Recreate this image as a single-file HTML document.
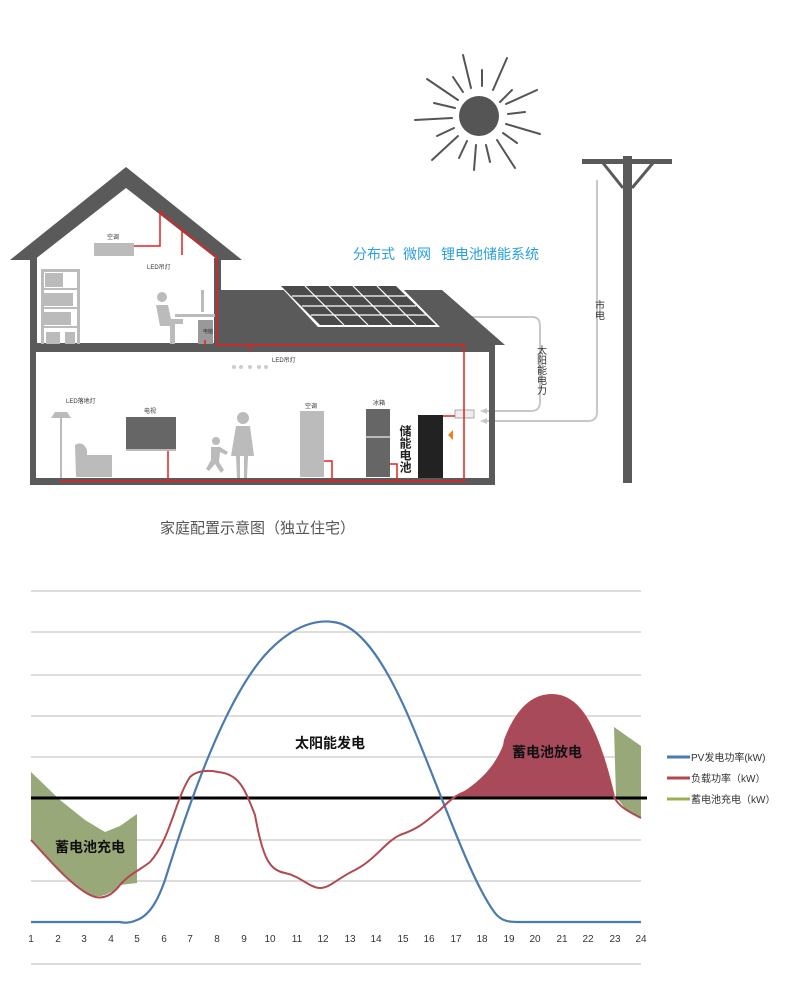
<!DOCTYPE html>
<html><head><meta charset="utf-8"><style>
html,body{margin:0;padding:0;background:#fff;}
svg{display:block;}
text{font-family:"Liberation Sans","Noto Sans CJK SC",sans-serif;}
</style></head><body>
<svg width="800" height="1000" viewBox="0 0 800 1000" xmlns="http://www.w3.org/2000/svg">
<!-- sun -->
<circle cx="479" cy="116" r="20" fill="#555"/>
<g stroke="#555" stroke-width="2" stroke-linecap="round">
<line x1="463" y1="55" x2="471" y2="88"/><line x1="482" y1="70" x2="482" y2="86"/>
<line x1="507" y1="58" x2="493" y2="90"/><line x1="453" y1="77" x2="463" y2="92"/>
<line x1="427" y1="79" x2="458" y2="100"/><line x1="512" y1="90" x2="500" y2="102"/>
<line x1="537" y1="90" x2="506" y2="104"/><line x1="434" y1="103" x2="455" y2="108"/>
<line x1="415" y1="120" x2="452" y2="118"/><line x1="508" y1="114" x2="525" y2="112"/>
<line x1="506" y1="124" x2="540" y2="134"/><line x1="437" y1="136" x2="454" y2="128"/>
<line x1="432" y1="160" x2="458" y2="136"/><line x1="503" y1="133" x2="517" y2="143"/>
<line x1="459" y1="158" x2="467" y2="141"/><line x1="474" y1="170" x2="476" y2="145"/>
<line x1="490" y1="162" x2="486" y2="145"/><line x1="515" y1="168" x2="497" y2="140"/>
</g>
<!-- pole -->
<rect x="623" y="156" width="9" height="327" fill="#5a5a5a"/>
<rect x="582" y="159" width="90" height="5" fill="#5a5a5a"/>
<line x1="603" y1="163" x2="623" y2="188" stroke="#5a5a5a" stroke-width="3"/>
<line x1="653" y1="163" x2="632" y2="188" stroke="#5a5a5a" stroke-width="3"/>
<!-- gray power lines -->
<g fill="none" stroke="#c8c8c8" stroke-width="2">
<path d="M597,180 L597,412 Q597,421 588,421 L484,421"/>
<path d="M449,317 L532,317 Q540,317 540,326 L540,402 Q540,411 531,411 L484,411"/>
</g>
<polygon points="480,411 487,408 487,414" fill="#c8c8c8"/>
<polygon points="480,421 487,418 487,424" fill="#c8c8c8"/>
<text x="598" y="300" font-size="10" fill="#333" writing-mode="tb">市电</text>
<text x="540" y="345" font-size="10" fill="#333" writing-mode="tb">太阳能电力</text>
<g font-size="14" fill="#2a9fe0">
<text x="353" y="259">分布式</text>
<text x="403" y="259">微网</text>
<text x="441" y="259">锂电池储能系统</text>
</g>
<!-- middle roof -->
<polygon points="220,290 442,290 505,345 220,345" fill="#5a5a5a"/>
<polygon points="278,284 398,284 440,327 318,327" fill="#fff"/>
<polygon points="281,286 396,286 436,325 320,325" fill="#4a4a4a"/>
<g stroke="#fff" stroke-width="1.2">
<line x1="292" y1="296" x2="406" y2="296"/><line x1="302" y1="306" x2="416" y2="306"/><line x1="311" y1="315" x2="426" y2="315"/>
<line x1="305" y1="286" x2="344" y2="325"/><line x1="329" y1="286" x2="368" y2="325"/><line x1="353" y1="286" x2="392" y2="325"/><line x1="377" y1="286" x2="416" y2="325"/>
</g>
<!-- upper gable -->
<polygon points="126,167 242,260 218,260 126,188 34,260 10,260" fill="#5a5a5a"/>
<rect x="30" y="258" width="7" height="90" fill="#5a5a5a"/>
<rect x="214" y="258" width="7" height="90" fill="#5a5a5a"/>
<!-- lower house -->
<rect x="30" y="343" width="465" height="9" fill="#5a5a5a"/>
<rect x="30" y="343" width="6" height="142" fill="#5a5a5a"/>
<rect x="489" y="343" width="6" height="142" fill="#5a5a5a"/>
<rect x="30" y="478" width="465" height="7" fill="#5a5a5a"/>
<!-- upper room items -->
<rect x="94" y="243" width="40" height="13" fill="#bbb"/>
<text x="107" y="239" font-size="6" fill="#333">空调</text>
<text x="147" y="269" font-size="6" fill="#333">LED吊灯</text>
<g fill="#bbb"><rect x="41" y="269" width="38" height="3"/><rect x="41" y="269" width="3" height="75"/><rect x="77" y="269" width="3" height="75"/><rect x="41" y="288" width="38" height="2"/><rect x="41" y="307" width="38" height="2"/><rect x="41" y="326" width="38" height="2"/><rect x="45" y="273" width="18" height="14"/><rect x="43" y="293" width="30" height="13"/><rect x="43" y="312" width="28" height="13"/><rect x="46" y="332" width="14" height="12"/><rect x="65" y="332" width="10" height="12"/></g>
<circle cx="162" cy="297" r="5" fill="#bbb"/>
<path d="M156,305 h12 l3,14 h12 v5 h-8 v20 h-5 v-18 h-10 z" fill="#bbb"/>
<rect x="175" y="314" width="40" height="3" fill="#bbb"/>
<rect x="201" y="290" width="3" height="22" fill="#bbb"/>
<rect x="198" y="320" width="15" height="24" fill="#999"/>
<text x="203" y="333" font-size="5" fill="#333">电脑</text>
<!-- lower room items -->
<text x="272" y="362" font-size="6" fill="#333">LED吊灯</text>
<g fill="#ccc"><circle cx="234" cy="367" r="2"/><circle cx="241" cy="367" r="2"/><circle cx="250" cy="367" r="2"/><circle cx="259" cy="367" r="2"/><circle cx="266" cy="367" r="2"/></g>
<text x="66" y="403" font-size="6" fill="#333">LED落地灯</text>
<polygon points="55,412 67,412 71,418 51,418" fill="#bbb"/>
<rect x="60" y="418" width="2" height="60" fill="#bbb"/>
<path d="M75,445 q8,-5 12,5 v5 h25 v22 h-36 z" fill="#bbb"/>
<text x="144" y="413" font-size="6" fill="#333">电视</text>
<rect x="126" y="417" width="50" height="32" fill="#666"/>
<rect x="126" y="449" width="50" height="2" fill="#bbb"/>
<circle cx="243" cy="418" r="6" fill="#bbb"/>
<path d="M236,426 h14 l4,30 h-6 l-1,22 h-3 v-22 h-4 v22 h-3 l-1,-22 h-5 z" fill="#bbb"/>
<circle cx="216" cy="441" r="4" fill="#bbb"/>
<path d="M211,447 h9 l8,5 -2,3 -6,-3 -1,10 5,8 -3,3 -6,-9 -6,7 -3,-2 5,-9 z" fill="#bbb"/>
<text x="305" y="408" font-size="6" fill="#333">空调</text>
<rect x="300" y="411" width="24" height="66" fill="#bbb"/>
<text x="373" y="405" font-size="6" fill="#333">冰箱</text>
<rect x="366" y="409" width="24" height="68" fill="#666"/>
<rect x="366" y="436" width="24" height="2" fill="#bbb"/>
<text x="405" y="425" font-size="12" font-weight="bold" fill="#222" writing-mode="tb">储能电池</text>
<rect x="418" y="415" width="25" height="63" fill="#222"/>
<polygon points="448,435 453,430 453,440" fill="#f08020"/>
<rect x="455" y="410" width="19" height="8" fill="#eee" stroke="#aaa"/>
<!-- red wires -->
<g fill="none" stroke="#e52020" stroke-width="1.5">
<path d="M134,246 H160 V212 L217,258 V345 H464 V481 H60"/>
<path d="M182,230 V255"/>
<path d="M205,345 V340"/>
<path d="M250,345 V352"/>
<path d="M168,451 V481"/>
<path d="M324,461 H332 V481"/>
<path d="M390,464 H397 V481"/>
<path d="M443,416 H455"/>
</g>
<text x="160" y="533" font-size="15" fill="#555">家庭配置示意图（独立住宅）</text>
<!-- chart grid -->
<g stroke="#bbb" stroke-width="1">
<line x1="31" y1="591" x2="641" y2="591"/><line x1="31" y1="632" x2="641" y2="632"/><line x1="31" y1="675" x2="641" y2="675"/><line x1="31" y1="716" x2="641" y2="716"/><line x1="31" y1="757" x2="641" y2="757"/><line x1="31" y1="840" x2="641" y2="840"/><line x1="31" y1="881" x2="641" y2="881"/><line x1="31" y1="964" x2="641" y2="964"/>
</g>
<!-- fills -->
<path d="M31,772 L60,800 L85,820 L105,832 L120,826 L137,814 L137,883 L120,885 Q105,900 90,895 C70,885 45,855 31,840 Z" fill="#98a878"/>
<path d="M614,727 L641,746 L641,818 L625,808 L616,797 Z" fill="#98a878"/>
<path d="M455,797 C475,785 495,770 505,740 C520,700 540,695 552,695 C575,695 595,715 614,797 Z" fill="#a84a5a"/>
<line x1="31" y1="798" x2="647" y2="798" stroke="#000" stroke-width="3"/>
<!-- curves -->
<path d="M31,922 L120,922 Q128,924 137,920 C150,915 158,900 165,880 C190,800 225,700 265,655 C295,622 320,620 333,622 C355,624 380,650 410,720 C440,790 470,880 495,913 C502,922 510,922 520,922 L641,922" fill="none" stroke="#4a7ab0" stroke-width="2.2"/>
<path d="M31,840 C45,855 70,885 90,895 C100,900 110,898 120,885 C128,875 140,870 150,862 C170,840 175,800 190,777 C197,770 210,770 218,772 C240,774 245,790 255,815 C263,860 270,870 285,873 C300,876 310,888 320,888 C330,888 338,878 355,870 C375,860 385,842 400,835 C420,828 425,822 440,810 C450,800 455,795 470,790 C495,782 500,770 505,740 C520,700 540,695 552,695 C575,695 595,715 614,797 C620,808 630,812 641,818" fill="none" stroke="#b04a50" stroke-width="2"/>
<!-- x labels -->
<g font-size="10" fill="#333" text-anchor="middle">
<text x="31" y="942">1</text><text x="58" y="942">2</text><text x="84" y="942">3</text><text x="111" y="942">4</text><text x="137" y="942">5</text><text x="164" y="942">6</text><text x="190" y="942">7</text><text x="217" y="942">8</text><text x="244" y="942">9</text><text x="270" y="942">10</text><text x="297" y="942">11</text><text x="323" y="942">12</text><text x="350" y="942">13</text><text x="376" y="942">14</text><text x="403" y="942">15</text><text x="429" y="942">16</text><text x="456" y="942">17</text><text x="482" y="942">18</text><text x="509" y="942">19</text><text x="535" y="942">20</text><text x="562" y="942">21</text><text x="588" y="942">22</text><text x="615" y="942">23</text><text x="641" y="942">24</text>
</g>
<text x="295" y="748" font-size="14" font-weight="bold" fill="#111">太阳能发电</text>
<text x="512" y="757" font-size="14" font-weight="bold" fill="#111">蓄电池放电</text>
<text x="55" y="852" font-size="14" font-weight="bold" fill="#111">蓄电池充电</text>
<!-- legend -->
<line x1="667" y1="757" x2="690" y2="757" stroke="#4a7ab0" stroke-width="3"/>
<line x1="667" y1="778" x2="690" y2="778" stroke="#b04a50" stroke-width="3"/>
<line x1="667" y1="799" x2="690" y2="799" stroke="#9ab050" stroke-width="3"/>
<g font-size="10" fill="#333">
<text x="691" y="761">PV发电功率(kW)</text>
<text x="691" y="782">负载功率（kW）</text>
<text x="691" y="803">蓄电池充电（kW）</text>
</g>
</svg>
</body></html>
